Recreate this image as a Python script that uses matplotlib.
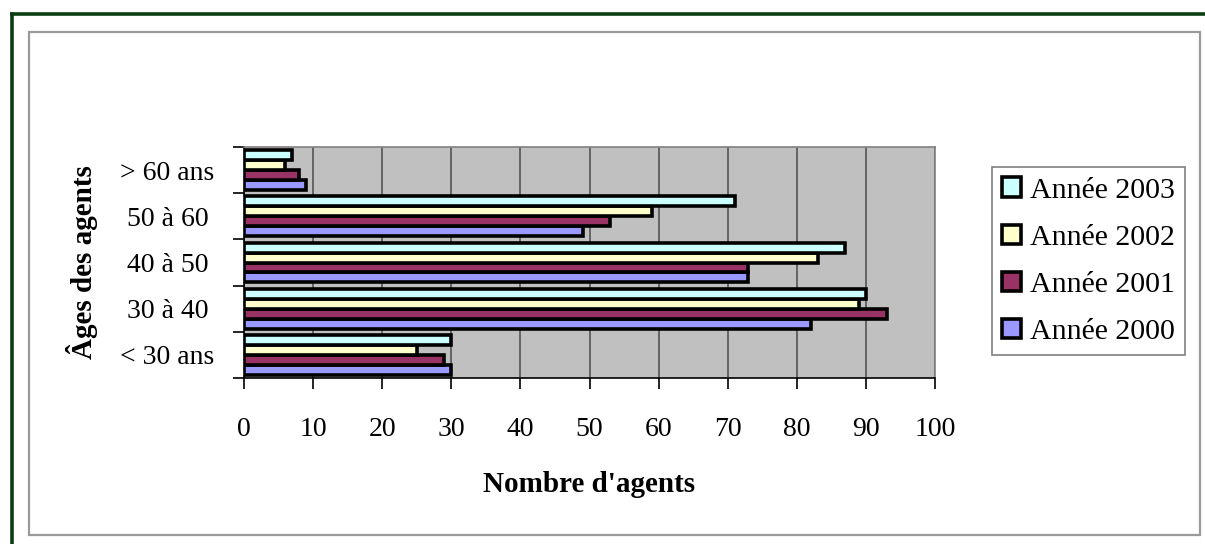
import numpy as np
import matplotlib
matplotlib.use('Agg')
import matplotlib.pyplot as plt
import matplotlib.patches as patches
from matplotlib.lines import Line2D

# Data
categories = ['< 30 ans', '30 à 40', '40 à 50', '50 à 60', '> 60 ans']
years = ['Année 2000', 'Année 2001', 'Année 2002', 'Année 2003']
val_2000 = [30, 82, 73, 49, 9]
val_2001 = [29, 93, 73, 53, 8]
val_2002 = [25, 89, 83, 59, 6]
val_2003 = [30, 90, 87, 71, 7]
colors = ['#9999FF', '#993366', '#FFFFCC', '#CCFFFF']

plt.rc('font', family=['Liberation Serif', 'DejaVu Serif'], size=20)

fig = plt.figure(figsize=(12.05, 5.44), dpi=100)
W, H = 1205., 544.

# Outer dark green frame (left and top) and inner grey box
fig.add_artist(Line2D([12 / W, 12 / W], [0, 1 - 14 / H], color='#0d3d12', lw=2.6,
                      transform=fig.transFigure))
fig.add_artist(Line2D([12 / W, 1], [1 - 14 / H, 1 - 14 / H], color='#0d3d12', lw=2.6,
                      transform=fig.transFigure))
fig.add_artist(patches.Rectangle((29 / W, 1 - 535 / H), (1200 - 29) / W, (535 - 32) / H,
                                 transform=fig.transFigure, fill=False,
                                 edgecolor='#9a9a9a', lw=1.6))

ax = fig.add_axes([244 / W, 1 - 378 / H, (935 - 244) / W, (378 - 147) / H])
ax.set_facecolor('#C0C0C0')

series = [val_2000, val_2001, val_2002, val_2003]
y = np.arange(len(categories))
bh = 0.215
offsets = [-1.5, -0.5, 0.5, 1.5]
for vals, c, off, lab in zip(series, colors, offsets, years):
    ax.barh(y + off * bh, vals, height=bh, color=c, edgecolor='black',
            linewidth=2.6, label=lab, zorder=3)

ax.set_xlim(0, 100)
ax.set_ylim(-0.5, len(categories) - 0.5)
ax.set_xticks(np.arange(0, 101, 10))
ax.set_yticks(y)
ax.set_yticklabels(categories, ha='center')
ax.set_yticks(np.arange(-0.5, len(categories), 1), minor=True)
ax.tick_params(axis='y', which='major', length=0, pad=55)
ax.tick_params(axis='y', which='minor', length=8, width=1.2, direction='out')
ax.tick_params(axis='x', length=8, width=1.2, direction='out', pad=20)
ax.grid(axis='x', color='#555555', lw=1.2, zorder=1)
for s in ['top', 'right']:
    ax.spines[s].set_color('#808080')
    ax.spines[s].set_linewidth(1.2)
for s in ['left', 'bottom']:
    ax.spines[s].set_color('black')
    ax.spines[s].set_linewidth(1.2)

ax.set_xlabel("Nombre d'agents", fontweight='bold', fontsize=21, labelpad=21)
ax.set_ylabel('Âges des agents', fontweight='bold', fontsize=21)
ax.yaxis.set_label_coords(-0.211, 0.5)

# Legend, top entry 2003
leg_handles = [patches.Patch(facecolor=c, edgecolor='black', lw=2.6) for c in colors][::-1]
leg = fig.legend(leg_handles, years[::-1], loc='upper left',
                 bbox_to_anchor=(992 / W, 1 - 167 / H), frameon=True, fancybox=False,
                 edgecolor='#808080', framealpha=1, handlelength=0.62, handleheight=0.62,
                 handletextpad=0.3, labelspacing=0.7, borderpad=0.35, borderaxespad=0,
                 fontsize=21.5)
leg.get_frame().set_linewidth(1.2)

fig.savefig('out.png', dpi=100)
